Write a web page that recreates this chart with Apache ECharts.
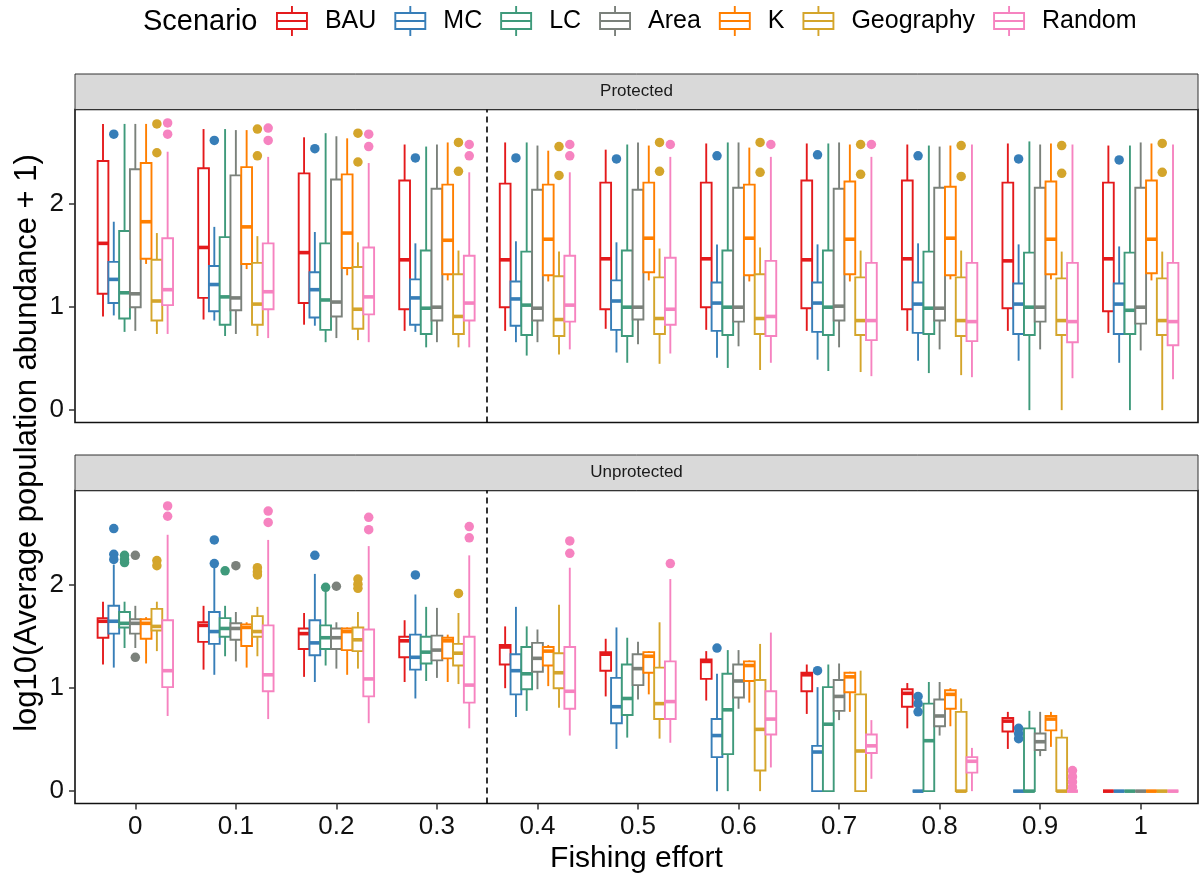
<!DOCTYPE html>
<html>
<head>
<meta charset="utf-8">
<script src="https://cdn.jsdelivr.net/npm/echarts@6/dist/echarts.min.js"></script>
<style>html,body{margin:0;padding:0;background:#fff}#c{width:1199px;height:878px}</style>
</head>
<body>
<div id="c"></div>
<script>
// ---------------- DATA ----------------
const categories = ['0','0.1','0.2','0.3','0.4','0.5','0.6','0.7','0.8','0.9','1'];
const scenarios = ['BAU','MC','LC','Area','K','Geography','Random'];
const yTicks = [0, 1, 2];

// Protected panel: [lower whisker, Q1, median, Q3, upper whisker] per fishing effort
const protBAU = [[0.91,1.13,1.62,2.42,2.78],[0.88,1.09,1.58,2.35,2.73],[0.83,1.04,1.53,2.30,2.65],[0.77,0.98,1.46,2.23,2.58],[0.77,1.00,1.46,2.20,2.60],[0.79,0.98,1.47,2.21,2.53],[0.78,1.00,1.47,2.21,2.59],[0.77,0.99,1.46,2.23,2.59],[0.77,0.98,1.47,2.23,2.58],[0.77,0.99,1.45,2.21,2.59],[0.75,0.96,1.47,2.21,2.57]];
const protMC = [[0.92,1.04,1.27,1.44,1.83],[0.87,0.96,1.22,1.40,1.78],[0.82,0.90,1.17,1.34,1.73],[0.76,0.83,1.09,1.27,1.62],[0.66,0.82,1.08,1.25,1.64],[0.56,0.78,1.06,1.26,1.63],[0.51,0.77,1.04,1.24,1.61],[0.49,0.76,1.04,1.24,1.61],[0.48,0.75,1.03,1.24,1.62],[0.48,0.74,1.03,1.23,1.61],[0.46,0.74,1.03,1.23,1.59]];
const protLC = [[0.76,0.89,1.14,1.74,2.78],[0.72,0.83,1.10,1.68,2.73],[0.66,0.78,1.07,1.62,2.69],[0.61,0.74,0.99,1.55,2.56],[0.53,0.73,1.02,1.54,2.60],[0.46,0.72,1.00,1.55,2.58],[0.41,0.73,1.00,1.55,2.60],[0.38,0.73,1.00,1.55,2.59],[0.36,0.74,0.99,1.54,2.57],[0.00,0.73,1.00,1.53,2.61],[0.00,0.74,0.97,1.53,2.57]];
const protArea = [[0.77,1.00,1.13,2.34,2.78],[0.74,0.97,1.09,2.28,2.72],[0.70,0.91,1.05,2.24,2.66],[0.66,0.87,1.00,2.15,2.58],[0.66,0.87,0.99,2.14,2.57],[0.64,0.88,1.00,2.14,2.60],[0.62,0.86,1.00,2.16,2.60],[0.61,0.87,1.01,2.15,2.60],[0.59,0.87,0.99,2.16,2.56],[0.59,0.86,1.00,2.16,2.58],[0.58,0.84,1.00,2.16,2.60]];
const protK = [[1.42,1.47,1.83,2.40,2.78],[1.37,1.42,1.78,2.36,2.72],[1.31,1.38,1.72,2.29,2.64],[1.26,1.32,1.65,2.19,2.60],[1.25,1.31,1.66,2.19,2.52],[1.26,1.34,1.67,2.21,2.57],[1.25,1.31,1.67,2.19,2.55],[1.25,1.32,1.66,2.22,2.58],[1.27,1.31,1.67,2.17,2.57],[1.27,1.32,1.66,2.22,2.59],[1.26,1.33,1.66,2.23,2.59]];
const protGeo = [[0.74,0.87,1.06,1.46,1.72],[0.72,0.83,1.03,1.43,1.69],[0.68,0.79,0.98,1.39,1.63],[0.61,0.74,0.91,1.32,1.55],[0.54,0.72,0.88,1.30,1.54],[0.45,0.74,0.89,1.29,1.57],[0.39,0.74,0.89,1.32,1.58],[0.37,0.73,0.87,1.29,1.55],[0.34,0.72,0.87,1.29,1.55],[0.00,0.73,0.87,1.28,1.54],[0.00,0.73,0.87,1.28,1.54]];
const protRandom = [[0.74,1.02,1.17,1.67,2.51],[0.70,0.98,1.15,1.62,2.46],[0.66,0.93,1.10,1.58,2.40],[0.61,0.87,1.04,1.50,2.31],[0.59,0.86,1.02,1.50,2.31],[0.55,0.83,0.98,1.48,2.46],[0.46,0.72,0.91,1.45,2.46],[0.33,0.68,0.87,1.43,2.46],[0.32,0.67,0.86,1.43,2.58],[0.31,0.66,0.86,1.43,2.58],[0.30,0.63,0.86,1.43,2.58]];

// Protected outliers: [fishing effort index, value]
const protOutBAU = [];
const protOutMC = [[0,2.68],[1,2.62],[2,2.54],[3,2.45],[4,2.45],[5,2.44],[6,2.47],[7,2.48],[8,2.47],[9,2.44],[10,2.43]];
const protOutLC = [];
const protOutArea = [];
const protOutK = [];
const protOutGeo = [[0,2.78],[0,2.50],[1,2.73],[1,2.47],[2,2.69],[2,2.41],[3,2.60],[3,2.32],[4,2.56],[4,2.28],[5,2.60],[5,2.32],[6,2.60],[6,2.31],[7,2.58],[7,2.29],[8,2.57],[8,2.27],[9,2.57],[9,2.30],[10,2.59],[10,2.31]];
const protOutRandom = [[0,2.79],[0,2.68],[1,2.74],[1,2.62],[2,2.68],[2,2.56],[3,2.58],[3,2.47],[4,2.58],[4,2.47],[5,2.58],[6,2.58],[7,2.58]];

// Unprotected panel
const unprBAU = [[1.23,1.49,1.65,1.68,1.84],[1.18,1.45,1.61,1.64,1.80],[1.11,1.38,1.53,1.58,1.73],[1.06,1.30,1.46,1.50,1.66],[1.00,1.23,1.40,1.42,1.60],[0.92,1.17,1.33,1.35,1.48],[0.88,1.09,1.26,1.28,1.36],[0.75,0.97,1.13,1.15,1.23],[0.61,0.82,0.95,0.99,1.05],[0.41,0.58,0.68,0.71,0.77],[0,0,0,0,0]];
const unprMC = [[1.20,1.53,1.65,1.80,2.20],[1.13,1.43,1.55,1.74,2.20],[1.06,1.32,1.44,1.66,2.11],[0.90,1.18,1.30,1.52,1.91],[0.72,0.94,1.17,1.33,1.79],[0.41,0.66,0.82,1.10,1.59],[0,0.33,0.54,0.70,1.14],[0,0,0.38,0.44,1.01],[0,0,0,0,0],[0,0,0,0,0],[0,0,0,0,0]];
const unprLC = [[1.39,1.59,1.63,1.74,1.84],[1.31,1.50,1.58,1.68,1.80],[1.22,1.38,1.49,1.61,1.95],[1.07,1.24,1.35,1.50,1.79],[0.78,0.99,1.14,1.40,1.60],[0.52,0.74,0.90,1.23,1.49],[0,0.36,0.79,1.14,1.37],[0,0,0.65,1.01,1.23],[0,0,0.49,0.85,1.06],[0,0,0,0.61,0.78],[0,0,0,0,0]];
const unprArea = [[1.39,1.53,1.63,1.67,1.80],[1.26,1.47,1.58,1.63,1.74],[1.19,1.38,1.49,1.58,1.64],[1.10,1.27,1.37,1.51,1.78],[0.99,1.16,1.29,1.44,1.57],[0.89,1.03,1.19,1.33,1.45],[0.80,0.91,1.07,1.23,1.37],[0.69,0.78,0.92,1.08,1.24],[0.54,0.63,0.73,0.89,1.06],[0.34,0.40,0.48,0.56,0.77],[0,0,0,0,0]];
const unprK = [[1.24,1.48,1.63,1.67,1.69],[1.20,1.41,1.59,1.62,1.64],[1.13,1.37,1.55,1.58,1.59],[1.06,1.29,1.46,1.49,1.52],[1.02,1.22,1.36,1.40,1.42],[0.94,1.15,1.31,1.35,1.36],[0.86,1.07,1.22,1.26,1.27],[0.77,0.96,1.11,1.15,1.16],[0.63,0.80,0.94,0.98,1.00],[0.43,0.59,0.70,0.73,0.77],[0,0,0,0,0]];
const unprGeo = [[1.36,1.56,1.60,1.77,1.84],[1.31,1.50,1.55,1.70,1.79],[1.19,1.36,1.47,1.59,1.74],[1.04,1.22,1.34,1.43,1.73],[0.81,1.00,1.15,1.34,1.81],[0.51,0.70,0.85,1.20,1.64],[0,0.20,0.60,1.08,1.43],[0,0,0.39,0.94,1.17],[0,0,0,0.77,0.90],[0,0,0,0.52,0.60],[0,0,0,0,0]];
const unprRandom = [[0.73,1.01,1.17,1.66,2.49],[0.70,0.97,1.13,1.61,2.44],[0.66,0.92,1.09,1.57,2.38],[0.61,0.86,1.03,1.50,2.29],[0.54,0.80,0.97,1.40,2.17],[0.47,0.70,0.87,1.26,2.06],[0.23,0.55,0.70,0.97,1.54],[0.12,0.37,0.44,0.55,0.69],[0,0.18,0.29,0.33,0.42],[0,0,0,0,0],[0,0,0,0,0]];

const unprOutBAU = [];
const unprOutMC = [[0,2.55],[0,2.30],[0,2.25],[1,2.44],[1,2.21],[2,2.29],[3,2.10],[6,1.39],[7,1.17],[8,0.92],[8,0.85],[8,0.77],[9,0.61],[9,0.56],[9,0.51]];
const unprOutLC = [[0,2.29],[0,2.25],[0,2.22],[1,2.14],[2,1.98]];
const unprOutArea = [[0,2.29],[0,1.30],[1,2.19],[2,1.99]];
const unprOutK = [];
const unprOutGeo = [[0,2.24],[0,2.19],[1,2.17],[1,2.13],[1,2.10],[2,2.06],[2,2.01],[2,1.97],[3,1.92]];
const unprOutRandom = [[0,2.77],[0,2.67],[1,2.72],[1,2.61],[2,2.66],[2,2.54],[3,2.57],[3,2.46],[4,2.43],[4,2.31],[5,2.21],[9,0.20],[9,0.14],[9,0.09],[9,0.04]];

const panelNames = ['Protected', 'Unprotected'];
const threshold = 3.5; // dashed separator between 0.3 and 0.4

// ---------------- STYLE / LAYOUT ----------------
const colors = ['#E41A1C','#377EB8','#3F9A7B','#7B817B','#FF7F00','#D4A52B','#F683C0'];
const FONT = 'Liberation Sans, Arial, sans-serif';
const DODGE = 0.75 / 7;
const BOXW = DODGE;
const GRID_LEFT = 75, GRID_W = 1123, GRID_H = 313;
const GRID_TOPS = [109.5, 490.5];
const STRIP_H = 35.5;

const boxData = [
  [protBAU, protMC, protLC, protArea, protK, protGeo, protRandom],
  [unprBAU, unprMC, unprLC, unprArea, unprK, unprGeo, unprRandom]
];
const outData = [
  [protOutBAU, protOutMC, protOutLC, protOutArea, protOutK, protOutGeo, protOutRandom],
  [unprOutBAU, unprOutMC, unprOutLC, unprOutArea, unprOutK, unprOutGeo, unprOutRandom]
];

function offset(s) { return (s - 3) * DODGE; }

function renderBox(params, api) {
  const x = api.value(0);
  const lo = api.coord([x, api.value(1)]);
  const q1 = api.coord([x, api.value(2)]);
  const md = api.coord([x, api.value(3)]);
  const q3 = api.coord([x, api.value(4)]);
  const hi = api.coord([x, api.value(5)]);
  const w = api.size([BOXW, 0])[0];
  const c = api.visual('color');
  const lw = 1.9;
  return {
    type: 'group',
    children: [
      { type: 'line', shape: { x1: lo[0], y1: lo[1], x2: q1[0], y2: q1[1] }, style: { stroke: c, lineWidth: lw } },
      { type: 'line', shape: { x1: q3[0], y1: q3[1], x2: hi[0], y2: hi[1] }, style: { stroke: c, lineWidth: lw } },
      { type: 'rect', shape: { x: q3[0] - w / 2, y: q3[1], width: w, height: q1[1] - q3[1] }, style: { fill: '#fff', stroke: c, lineWidth: lw } },
      { type: 'line', shape: { x1: md[0] - w / 2, y1: md[1], x2: md[0] + w / 2, y2: md[1] }, style: { stroke: c, lineWidth: 3.6 } }
    ]
  };
}

const series = [];
boxData.forEach((panel, g) => {
  panel.forEach((arr, s) => {
    series.push({
      type: 'custom', name: scenarios[s], xAxisIndex: g, yAxisIndex: g,
      itemStyle: { color: colors[s] },
      encode: { x: 0, y: [1, 2, 3, 4, 5] },
      renderItem: renderBox,
      data: arr.map((v, i) => [i + offset(s)].concat(v)),
      z: 2
    });
  });
});
outData.forEach((panel, g) => {
  panel.forEach((arr, s) => {
    series.push({
      type: 'scatter', name: scenarios[s], xAxisIndex: g, yAxisIndex: g,
      symbol: 'circle', symbolSize: 9.5,
      itemStyle: { color: colors[s], opacity: 1 },
      data: arr.map(p => [p[0] + offset(s), p[1]]),
      z: 3
    });
  });
  series.push({
    type: 'line', name: 'sep' + g, xAxisIndex: g, yAxisIndex: g, data: [],
    markLine: {
      silent: true, symbol: 'none', animation: false,
      label: { show: false },
      lineStyle: { color: '#000', width: 1.6, type: [6, 4] },
      data: [{ xAxis: threshold }]
    }
  });
});

const BOX_ICON = 'path://M15,0 L15,7 M0,7 L30,7 L30,23 L0,23 Z M0,15 L30,15 M15,23 L15,30';

const xAxes = [0, 1].map(g => ({
  type: 'value', gridIndex: g, min: -0.6, max: 10.57,
  axisLine: { show: false, onZero: false },
  splitLine: { show: false },
  axisTick: { show: g === 1, customValues: categories.map((c, i) => i), length: 6, lineStyle: { color: '#333', width: 1.5 } },
  axisLabel: { show: g === 1, customValues: categories.map((c, i) => i), formatter: v => categories[Math.round(v)], fontSize: 26, color: '#111', margin: 10, fontFamily: FONT },
  name: g === 1 ? 'Fishing effort' : '',
  nameLocation: 'middle', nameGap: 40,
  nameTextStyle: { fontSize: 30, color: '#000', fontFamily: FONT }
}));
const yAxes = [0, 1].map(g => ({
  type: 'value', gridIndex: g, min: -0.12, max: 2.92,
  axisLine: { show: false, onZero: false },
  splitLine: { show: false },
  axisTick: { show: true, customValues: yTicks, length: 6, lineStyle: { color: '#333', width: 1.5 } },
  axisLabel: { customValues: yTicks, fontSize: 26, color: '#111', margin: 11, fontFamily: FONT }
}));

const graphic = [];
GRID_TOPS.forEach((t, g) => {
  graphic.push({ type: 'rect', shape: { x: GRID_LEFT, y: t - STRIP_H, width: GRID_W, height: STRIP_H }, style: { fill: '#D9D9D9', stroke: '#333', lineWidth: 1 }, z: 1 });
  graphic.push({ type: 'text', x: GRID_LEFT + GRID_W / 2, y: t - STRIP_H / 2, style: { text: panelNames[g], fontSize: 17, fontFamily: FONT, fill: '#1a1a1a', align: 'center', verticalAlign: 'middle', textAlign: 'center', textVerticalAlign: 'middle' }, z: 2 });
});
graphic.push({ type: 'text', x: 27, y: 443, rotation: Math.PI / 2, style: { text: 'log10(Average population abundance + 1)', fontSize: 31, fontFamily: FONT, fill: '#000', align: 'center', verticalAlign: 'middle', textAlign: 'center', textVerticalAlign: 'middle' } });

const chart = echarts.init(document.getElementById('c'), null, { renderer: 'canvas' });
chart.setOption({
  animation: false,
  backgroundColor: '#fff',
  title: { text: 'Scenario', left: 143, top: 7, padding: 0, textStyle: { fontSize: 29, fontWeight: 'normal', color: '#000', fontFamily: FONT } },
  legend: {
    left: 276, top: 5, padding: 0,
    itemWidth: 30, itemHeight: 30, itemGap: 18,
    textStyle: { fontSize: 25, color: '#000', fontFamily: FONT, padding: [0, 0, 0, 13] },
    data: scenarios.map((n, i) => ({ name: n, icon: BOX_ICON, itemStyle: { color: '#fff', borderColor: colors[i], borderWidth: 1.9 } }))
  },
  grid: GRID_TOPS.map(t => ({ left: GRID_LEFT, top: t, width: GRID_W, height: GRID_H, show: true, borderColor: '#111', borderWidth: 1.6, backgroundColor: 'transparent' })),
  xAxis: xAxes,
  yAxis: yAxes,
  graphic: graphic,
  series: series
});
</script>
</body>
</html>
